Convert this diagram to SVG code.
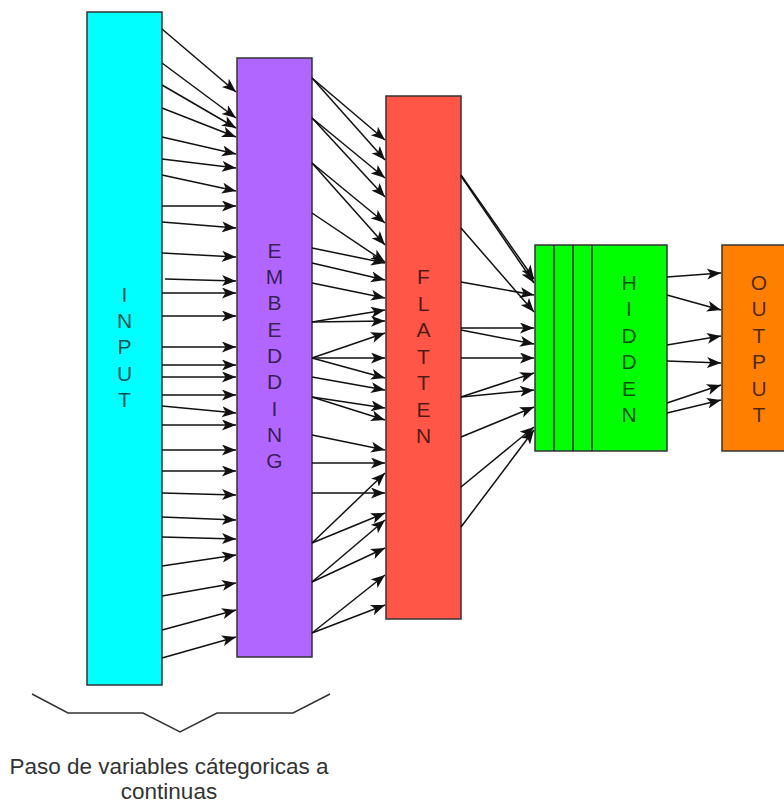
<svg xmlns="http://www.w3.org/2000/svg" width="784" height="804" viewBox="0 0 784 804">
  <style>
    .box { stroke: #333; stroke-width: 1.5; }
    .lbl { font-family: "Liberation Sans", Arial, sans-serif; font-size: 21px; fill: #000; fill-opacity: 0.7; text-anchor: middle; }
    .edge line { stroke: #111; stroke-width: 1.5; marker-end: url(#arrow); }
    .cap { font-family: "Liberation Sans", Arial, sans-serif; font-size: 22.5px; fill: #333; text-anchor: middle; }
  </style>
  <defs>
    <marker id="arrow" markerUnits="userSpaceOnUse" markerWidth="15" markerHeight="12" refX="14" refY="5.5" orient="auto">
      <path d="M0,0 L14,5.5 L0,11 L3.5,5.5 Z" fill="#111"/>
    </marker>
  </defs>
  <rect width="784" height="804" fill="#fff"/>

  <!-- layers -->
  <g id="input">
    <rect class="box" x="87" y="12" width="75" height="673" fill="#00FFFF"/>
    <text class="lbl" x="124.5" y="301.7">I</text>
    <text class="lbl" x="124.5" y="328">N</text>
    <text class="lbl" x="124.5" y="354.3">P</text>
    <text class="lbl" x="124.5" y="380.6">U</text>
    <text class="lbl" x="124.5" y="406.9">T</text>
  </g>

  <g id="embedding">
    <rect class="box" x="237" y="58" width="75" height="599" fill="#B066FF"/>
    <text class="lbl" x="274.5" y="257.7">E</text>
    <text class="lbl" x="274.5" y="284">M</text>
    <text class="lbl" x="274.5" y="310.3">B</text>
    <text class="lbl" x="274.5" y="336.6">E</text>
    <text class="lbl" x="274.5" y="362.9">D</text>
    <text class="lbl" x="274.5" y="389.2">D</text>
    <text class="lbl" x="274.5" y="415.5">I</text>
    <text class="lbl" x="274.5" y="441.8">N</text>
    <text class="lbl" x="274.5" y="468.1">G</text>
  </g>

  <g id="flatten">
    <rect class="box" x="386" y="96" width="75" height="523" fill="#FF5647"/>
    <text class="lbl" x="423.5" y="284">F</text>
    <text class="lbl" x="423.5" y="310.5">L</text>
    <text class="lbl" x="423.5" y="337">A</text>
    <text class="lbl" x="423.5" y="363.5">T</text>
    <text class="lbl" x="423.5" y="390">T</text>
    <text class="lbl" x="423.5" y="416.5">E</text>
    <text class="lbl" x="423.5" y="443">N</text>
  </g>

  <g id="hidden">
    <rect class="box" x="535" y="245" width="132" height="206" fill="#00FF00"/>
    <line x1="554" y1="245" x2="554" y2="451" stroke="#222" stroke-width="1.5"/>
    <line x1="573" y1="245" x2="573" y2="451" stroke="#222" stroke-width="1.5"/>
    <line x1="592" y1="245" x2="592" y2="451" stroke="#222" stroke-width="1.5"/>
    <text class="lbl" x="629" y="289.5">H</text>
    <text class="lbl" x="629" y="316">I</text>
    <text class="lbl" x="629" y="342.5">D</text>
    <text class="lbl" x="629" y="369">D</text>
    <text class="lbl" x="629" y="395.5">E</text>
    <text class="lbl" x="629" y="422">N</text>
  </g>

  <g id="output">
    <rect class="box" x="722" y="245" width="75" height="206" fill="#FF8000"/>
    <text class="lbl" x="759" y="289.5">O</text>
    <text class="lbl" x="759" y="316">U</text>
    <text class="lbl" x="759" y="342.5">T</text>
    <text class="lbl" x="759" y="369">P</text>
    <text class="lbl" x="759" y="395.5">U</text>
    <text class="lbl" x="759" y="422">T</text>
  </g>

  <!-- connections -->
  <g id="connectors" class="edge">
    <!-- input to embedding -->
    <line x1="162" y1="29" x2="236" y2="92"/>
    <line x1="162" y1="63" x2="236" y2="118"/>
    <line x1="162" y1="85" x2="236" y2="128"/>
    <line x1="162" y1="108" x2="236" y2="137"/>
    <line x1="162" y1="137" x2="236" y2="154"/>
    <line x1="162" y1="159" x2="236" y2="168"/>
    <line x1="162" y1="175" x2="236" y2="191"/>
    <line x1="162" y1="206" x2="236" y2="206"/>
    <line x1="162" y1="222" x2="236" y2="228"/>
    <line x1="162" y1="253" x2="236" y2="257"/>
    <line x1="165" y1="279" x2="236" y2="281"/>
    <line x1="162" y1="293" x2="236" y2="293"/>
    <line x1="162" y1="316" x2="236" y2="316"/>
    <line x1="162" y1="347" x2="236" y2="347"/>
    <line x1="162" y1="365" x2="236" y2="365"/>
    <line x1="162" y1="377" x2="236" y2="377"/>
    <line x1="162" y1="395" x2="236" y2="395"/>
    <line x1="162" y1="406" x2="236" y2="413"/>
    <line x1="162" y1="425" x2="236" y2="425"/>
    <line x1="162" y1="450" x2="236" y2="450"/>
    <line x1="162" y1="471" x2="236" y2="471"/>
    <line x1="162" y1="493" x2="236" y2="495"/>
    <line x1="162" y1="517" x2="236" y2="520"/>
    <line x1="162" y1="537" x2="236" y2="539"/>
    <line x1="162" y1="566" x2="236" y2="555"/>
    <line x1="162" y1="596" x2="236" y2="583"/>
    <line x1="162" y1="630" x2="236" y2="610"/>
    <line x1="162" y1="658" x2="236" y2="637"/>

    <!-- embedding to flatten -->
    <line x1="312" y1="78" x2="385" y2="140"/>
    <line x1="312" y1="78" x2="385" y2="160"/>
    <line x1="312" y1="118" x2="385" y2="178"/>
    <line x1="312" y1="118" x2="385" y2="197"/>
    <line x1="312" y1="163" x2="385" y2="223"/>
    <line x1="312" y1="163" x2="385" y2="245"/>
    <line x1="312" y1="213" x2="385" y2="262"/>
    <line x1="312" y1="248" x2="385" y2="263"/>
    <line x1="312" y1="263" x2="385" y2="280"/>
    <line x1="312" y1="283" x2="385" y2="298"/>
    <line x1="312" y1="322" x2="385" y2="310"/>
    <line x1="312" y1="322" x2="385" y2="321"/>
    <line x1="312" y1="358" x2="385" y2="333"/>
    <line x1="312" y1="358" x2="385" y2="358"/>
    <line x1="312" y1="358" x2="385" y2="378"/>
    <line x1="312" y1="377" x2="385" y2="390"/>
    <line x1="312" y1="397" x2="385" y2="408"/>
    <line x1="312" y1="397" x2="385" y2="420"/>
    <line x1="312" y1="435" x2="385" y2="450"/>
    <line x1="312" y1="463" x2="385" y2="463"/>
    <line x1="312" y1="493" x2="385" y2="493"/>
    <line x1="312" y1="543" x2="385" y2="473"/>
    <line x1="312" y1="543" x2="385" y2="513"/>
    <line x1="312" y1="582" x2="385" y2="520"/>
    <line x1="312" y1="582" x2="385" y2="548"/>
    <line x1="312" y1="633" x2="385" y2="575"/>
    <line x1="312" y1="633" x2="385" y2="605"/>

    <!-- flatten to hidden -->
    <line x1="461" y1="175" x2="534" y2="279"/>
    <line x1="461" y1="176" x2="534" y2="283"/>
    <line x1="461" y1="228" x2="534" y2="312"/>
    <line x1="461" y1="282" x2="534" y2="295"/>
    <line x1="461" y1="328" x2="534" y2="328"/>
    <line x1="461" y1="330" x2="534" y2="344"/>
    <line x1="461" y1="358" x2="534" y2="358"/>
    <line x1="461" y1="397" x2="534" y2="373"/>
    <line x1="461" y1="397" x2="534" y2="390"/>
    <line x1="461" y1="437" x2="534" y2="407"/>
    <line x1="461" y1="487" x2="534" y2="427"/>
    <line x1="461" y1="527" x2="534" y2="430"/>

    <!-- hidden to output -->
    <line x1="667" y1="277" x2="721" y2="273"/>
    <line x1="667" y1="295" x2="721" y2="310"/>
    <line x1="667" y1="345" x2="721" y2="336"/>
    <line x1="667" y1="361" x2="721" y2="363"/>
    <line x1="667" y1="403" x2="721" y2="385"/>
    <line x1="667" y1="413" x2="721" y2="400"/>
  </g>

  <!-- brace under the first two layers -->
  <g id="brace">
    <polyline points="32,694 68,713 143,713 180,732 217,713 293,713 330,694" fill="none" stroke="#333" stroke-width="1.5"/>
    <text class="cap" x="169" y="774">Paso de variables cátegoricas a</text>
    <text class="cap" x="169" y="799">continuas</text>
  </g>
</svg>
